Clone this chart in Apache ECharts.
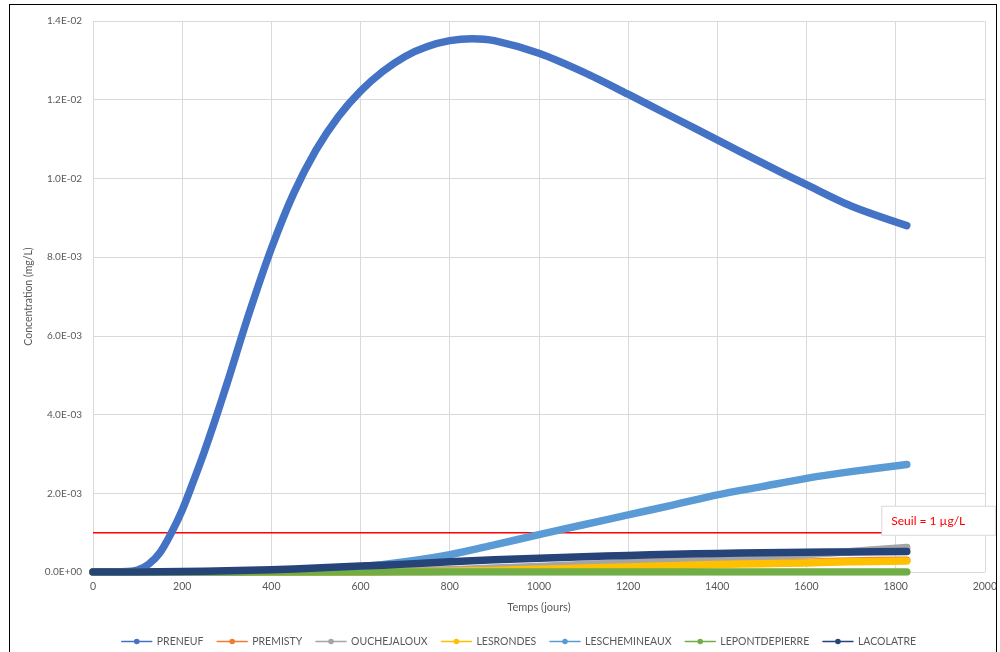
<!DOCTYPE html>
<html>
<head>
<meta charset="utf-8">
<script src="https://cdn.jsdelivr.net/npm/echarts@6/dist/echarts.min.js"></script>
<style>
  html, body { margin: 0; padding: 0; background: #fff; }
  #wrap { position: relative; width: 1000px; height: 652px; overflow: hidden; }
  #chart { position: absolute; left: 0; top: 0; width: 1000px; height: 652px; }
  #frame { position: absolute; left: 9px; top: 4px; width: 988px; height: 700px;
           border: 1px solid #000; pointer-events: none; box-sizing: border-box; }
</style>
</head>
<body>
<div id="wrap">
  <div id="chart"></div>
  <div id="frame"></div>
</div>
<script>
// Days since start of the simulation
const preneufDays = [0, 50, 75, 100, 125, 150, 175, 200, 225, 250, 275, 300, 350, 400, 450, 500, 550, 600, 650, 700, 750, 800, 850, 900, 1000, 1100, 1200, 1300, 1400, 1500, 1600, 1700, 1825];
const preneuf      = [0, 0, 0.00001, 0.00005, 0.0002, 0.00049, 0.00098, 0.00157, 0.0023, 0.00307, 0.0039, 0.00477, 0.00657, 0.00822, 0.00962, 0.01072, 0.01157, 0.01222, 0.01272, 0.0131, 0.01335, 0.0135, 0.01355, 0.0135, 0.01318, 0.0127, 0.01214, 0.01156, 0.01098, 0.0104, 0.00984, 0.0093, 0.0088];

// Common day grid for the stations with low concentrations
const days           = [0, 100, 200, 300, 400, 500, 600, 700, 800, 900, 1000, 1100, 1200, 1300, 1400, 1500, 1600, 1700, 1825];
const premisty       = [0, 0, 0, 0, 0, 0, 0, 0.00001, 0.00002, 0.00005, 0.00008, 0.00012, 0.00015, 0.00018, 0.00021, 0.00023, 0.00025, 0.00028, 0.00030];
const ouchejaloux    = [0, 0, 0, 0, 0, 0, 0.00001, 0.00003, 0.00006, 0.00010, 0.00014, 0.00019, 0.00024, 0.00029, 0.00034, 0.00039, 0.00044, 0.00052, 0.00062];
const lesrondes      = [0, 0, 0, 0, 0, 0, 0, 0.00001, 0.00002, 0.00004, 0.00007, 0.00010, 0.00013, 0.00016, 0.00019, 0.00021, 0.00023, 0.00026, 0.00028];
const leschemineaux  = [0, 0, 0, 0, 0.00002, 0.00006, 0.00013, 0.00026, 0.00044, 0.00069, 0.00095, 0.0012, 0.00145, 0.0017, 0.00196, 0.00217, 0.00238, 0.00255, 0.00273];
const lepontdepierre = [0, 0, 0, 0, 0, 0, 0, 0, 0, 0, 0, 0, 0, 0, 0, 0, 0, 0, 0];
const lacolatre      = [0, 0, 0.00001, 0.00003, 0.00006, 0.00010, 0.00015, 0.00020, 0.00026, 0.00031, 0.00035, 0.00039, 0.00042, 0.00045, 0.00047, 0.00049, 0.00050, 0.00051, 0.00052];

// Threshold (mg/L) and the day where its label box starts
const seuil = 0.001;
const seuilEndDay = 1770;

const stationNames  = ['PRENEUF', 'PREMISTY', 'OUCHEJALOUX', 'LESRONDES', 'LESCHEMINEAUX', 'LEPONTDEPIERRE', 'LACOLATRE'];
const stationColors = ['#4472C4', '#ED7D31', '#A5A5A5', '#FFC000', '#5B9BD5', '#70AD47', '#264478'];

const xTicks = { min: 0, max: 2000, interval: 200 };
const yTicks = { min: 0, max: 0.014, interval: 0.002 };

function pairs(xs, ys) { return xs.map((x, i) => [x, ys[i]]); }

function sci(v) {
  if (Math.abs(v) < 1e-12) return '0.0E+00';
  const parts = v.toExponential(1).split('e');
  const n = parseInt(parts[1], 10);
  return parts[0] + 'E' + (n < 0 ? '-' : '+') + String(Math.abs(n)).padStart(2, '0');
}

const font = 'Lato, "Liberation Sans", sans-serif';
const textGrey = '#595959';

const stationData = [
  pairs(preneufDays, preneuf),
  pairs(days, premisty),
  pairs(days, ouchejaloux),
  pairs(days, lesrondes),
  pairs(days, leschemineaux),
  pairs(days, lepontdepierre),
  pairs(days, lacolatre)
];

const series = stationNames.map((name, i) => ({
  name: name,
  type: 'line',
  data: stationData[i],
  smooth: 0.3,
  symbol: 'circle',
  symbolSize: 6,
  showSymbol: false,
  color: stationColors[i],
  lineStyle: { width: 7.5, color: stationColors[i], cap: 'round', join: 'round' },
  emphasis: { disabled: true },
  animation: false
}));

series.push({
  name: 'Seuil',
  type: 'line',
  data: [[0, seuil], [seuilEndDay, seuil]],
  symbol: 'none',
  color: '#FF0000',
  lineStyle: { width: 1.5, color: '#FF0000' },
  emphasis: { disabled: true },
  animation: false,
  z: 1,
  markPoint: {
    symbol: 'circle',
    symbolSize: 0,
    silent: true,
    animation: false,
    data: [{ coord: [seuilEndDay, seuil] }],
    label: {
      show: true,
      position: [0, -26],
      formatter: 'Seuil = 1 µg/L',
      color: '#FF0000',
      fontFamily: font,
      fontSize: 12,
      lineHeight: 16,
      backgroundColor: '#ffffff',
      borderColor: '#D9D9D9',
      borderWidth: 1,
      padding: [6, 30, 6, 9]
    }
  }
});

const chart = echarts.init(document.getElementById('chart'), null, { renderer: 'canvas' });
chart.setOption({
  animation: false,
  backgroundColor: 'transparent',
  grid: { left: 93, right: 13, top: 21, bottom: 80, containLabel: false },
  legend: {
    data: stationNames,
    bottom: 0,
    left: 116,
    itemWidth: 30,
    itemHeight: 7,
    itemGap: 13,
    lineStyle: { width: 1.5 },
    textStyle: { color: textGrey, fontFamily: font, fontSize: 10.5 },
    selectedMode: false
  },
  xAxis: {
    type: 'value',
    min: xTicks.min, max: xTicks.max, interval: xTicks.interval,
    name: 'Temps (jours)',
    nameLocation: 'middle',
    nameGap: 30,
    nameTextStyle: { color: textGrey, fontFamily: font, fontSize: 11 },
    axisLine: { show: true, lineStyle: { color: '#D9D9D9', width: 1 } },
    axisTick: { show: false },
    axisLabel: { color: textGrey, fontFamily: font, fontSize: 10.5, margin: 9, formatter: v => String(v) },
    splitLine: { show: true, lineStyle: { color: '#D9D9D9', width: 1 } }
  },
  yAxis: {
    type: 'value',
    min: yTicks.min, max: yTicks.max, interval: yTicks.interval,
    name: 'Concentration (mg/L)',
    nameLocation: 'middle',
    nameGap: 58,
    nameTextStyle: { color: textGrey, fontFamily: font, fontSize: 10.5 },
    axisLine: { show: false },
    axisTick: { show: false },
    axisLabel: { color: textGrey, fontFamily: font, fontSize: 10, margin: 11, formatter: sci },
    splitLine: { show: true, lineStyle: { color: '#D9D9D9', width: 1 } }
  },
  series: series
});
</script>
</body>
</html>
